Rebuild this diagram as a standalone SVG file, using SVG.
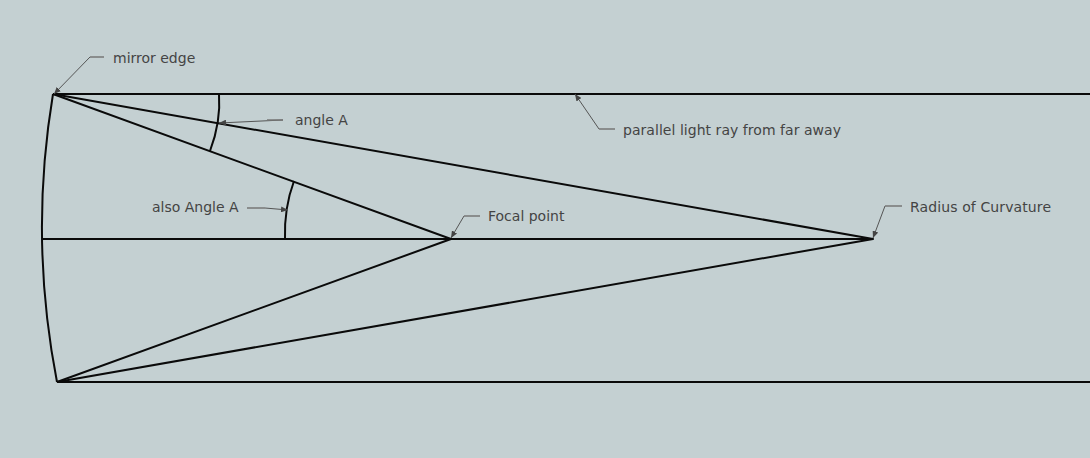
<svg xmlns="http://www.w3.org/2000/svg" width="1090" height="458" viewBox="0 0 1090 458">
<style>
.l{fill:none;stroke:#0a0a0a;stroke-width:2;stroke-linejoin:round}
.c{fill:none;stroke:#555;stroke-width:1}
.g{fill:none;stroke:#777;stroke-width:1.6}
text{font-family:"DejaVu Sans",sans-serif;font-size:14px;fill:#444}
</style>
<defs><marker id="a" markerUnits="userSpaceOnUse" markerWidth="8" markerHeight="6" refX="7" refY="3" orient="auto"><path d="M0 0L7 3L0 6Z" fill="#444"/></marker></defs>
<rect width="1090" height="458" fill="#c4d0d2"/>
<g id="connectors">
<path class="l" d="M53 94H1090"/>
<path class="l" d="M57 382H1090"/>
<path class="l" d="M42 239H873"/>
<path class="l" d="M53 94Q29 238 57 382"/>
<path class="l" d="M53 94L873 239L57 382"/>
<path class="l" d="M53 94L451 239L57 382"/>
<path class="l" d="M219 94Q221 122 210 151"/>
<path class="l" d="M294 181Q284 208 285 239"/>
<path class="c" d="M90 57L54 94" marker-end="url(#a)"/>
<path class="c" d="M283 120L219 123" marker-end="url(#a)"/>
<path class="c" d="M265 208L288 210" marker-end="url(#a)"/>
<path class="c" d="M599 129L575 94" marker-end="url(#a)"/>
<path class="c" d="M464 216L451 238" marker-end="url(#a)"/>
<path class="c" d="M885 206L873 238" marker-end="url(#a)"/>
<path class="g" d="M90 57H104M283 120H267M265 208H247M599 129H615M464 216H480M885 206H902"/>
</g>
<g id="label-mirror-edge"><text x="113" y="63">mirror edge</text></g>
<g id="label-angle-a"><text x="295" y="125">angle A</text></g>
<g id="label-also-angle-a"><text x="152" y="212">also Angle A</text></g>
<g id="label-parallel"><text x="623" y="135" textLength="218">parallel light ray from far away</text></g>
<g id="label-focal"><text x="488" y="221">Focal point</text></g>
<g id="label-radius"><text x="910" y="212" textLength="141">Radius of Curvature</text></g>
</svg>
